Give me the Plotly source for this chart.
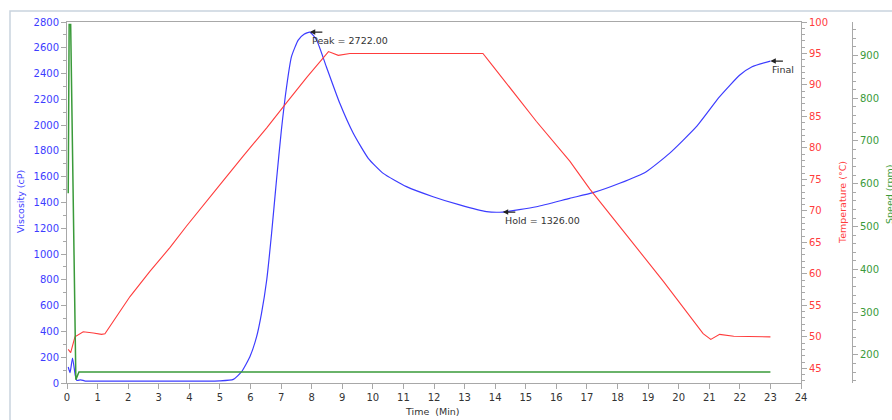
import plotly.graph_objects as go

# ---------------- data ----------------
time_visc = [0.04, 0.1, 0.18, 0.27, 0.32, 0.45, 0.6, 1, 2, 3, 4, 5, 5.44, 5.71, 5.98, 6.2, 6.36,
             6.53, 6.69, 6.85, 7.01, 7.18, 7.34, 7.56, 7.75, 7.94, 8.16, 8.48, 8.92, 9.36, 9.85, 10.34,
             11.1, 11.97, 12.84, 13.72, 14.25, 15.35, 16.44, 17.2, 18.07, 18.94, 19.7, 20.58,
             21.34, 22.0, 22.4, 23.0]
viscosity = [124, 80, 194, 60, 20, 25, 15, 14, 14, 14, 14, 16, 28, 88, 204, 359, 540,
             799, 1161, 1574, 1962, 2298, 2531, 2660, 2705, 2722, 2660, 2453, 2169, 1937, 1743, 1626,
             1523, 1445, 1381, 1329, 1326, 1367, 1432, 1476, 1549, 1639, 1781, 1988,
             2221, 2389, 2453, 2497]

time_temp = [0.04, 0.12, 0.26, 0.53, 0.86, 1.13, 1.24, 1.51, 2.06, 2.71, 3.37, 3.91, 4.45, 5.11,
             5.76, 6.53, 7.18, 7.84, 8.55, 8.87, 9.25, 13.6, 13.83, 14.26, 15.35, 16.44, 17.09,
             18.29, 19.5, 20.8, 21.05, 21.34, 21.8, 23.0]
temperature = [48.0, 47.5, 50.0, 50.8, 50.6, 50.4, 50.5, 52.4, 56.4, 60.4, 64.2, 67.6, 70.9, 74.8,
               78.7, 83.2, 87.2, 91.2, 95.3, 94.7, 95.0, 95.0, 93.6, 90.9, 84.2, 77.9, 73.5,
               66.2, 58.8, 50.5, 49.6, 50.4, 50.1, 50.0]

time_speed = [0.04, 0.07, 0.12, 0.29, 0.39, 23.0]
speed = [578, 972, 972, 142, 160, 160]

x_ticks = list(range(0, 25))
marker_labels = ["Peak = 2722.00", "Hold = 1326.00", "Final"]
marker_times = [7.94, 14.25, 23.0]
marker_values = [2722, 1326, 2497]

# ---------------- styling ----------------
FONT = "DejaVu Sans"
BLUE = "#3c3cff"
RED = "#ff3c3c"
GREEN = "#3a9a3a"
AX = "#a8a8a8"

W, H = 892, 420
L, R, T, B = 67, 40, 22, 37
plot_w = W - L - R
x_end = (801 - L) / plot_w

fig = go.Figure()
fig.add_trace(go.Scatter(x=time_visc, y=viscosity, mode="lines",
                         line=dict(color=BLUE, width=1.2, shape="spline", smoothing=0.5),
                         yaxis="y", showlegend=False))
fig.add_trace(go.Scatter(x=time_temp, y=temperature, mode="lines", line=dict(color=RED, width=1.1),
                         yaxis="y2", showlegend=False))
fig.add_trace(go.Scatter(x=time_speed, y=speed, mode="lines", line=dict(color=GREEN, width=1.5),
                         yaxis="y3", showlegend=False))

annotations = []
for lbl, tx, vy in zip(marker_labels, marker_times, marker_values):
    annotations.append(dict(x=tx, y=vy, xref="x", yref="y", text="", showarrow=True,
                            ax=14, ay=0, arrowhead=2, arrowsize=0.9, arrowwidth=1.2,
                            arrowcolor="#222222"))
    annotations.append(dict(x=tx, y=vy, xref="x", yref="y", text=lbl, showarrow=False,
                            xanchor="left", yanchor="top", xshift=0, yshift=-1,
                            font=dict(family=FONT, size=9.5, color="#333333")))

def px_x(p):
    return (p - L) / plot_w

def px_y(p):
    return (H - B - p) / (H - T - B)

annotations += [
    dict(x=px_x(20), y=px_y(202), xref="paper", yref="paper", text="Viscosity (cP)", textangle=-90,
         xanchor="center", yanchor="middle",
         showarrow=False, font=dict(family=FONT, size=9.5, color=BLUE)),
    dict(x=px_x(842), y=px_y(203), xref="paper", yref="paper", text="Temperature (°C)", textangle=-90,
         xanchor="center", yanchor="middle",
         showarrow=False, font=dict(family=FONT, size=9.5, color=RED)),
    dict(x=px_x(889), y=px_y(195), xref="paper", yref="paper", text="Speed (rpm)", textangle=-90,
         xanchor="center", yanchor="middle",
         showarrow=False, font=dict(family=FONT, size=9.5, color=GREEN)),
    dict(x=px_x(432), y=px_y(411), xref="paper", yref="paper", text="Time  (Min)",
         xanchor="center", yanchor="middle",
         showarrow=False, font=dict(family=FONT, size=9.5, color="#333333")),
]

shapes = [
    dict(type="rect", xref="paper", yref="paper", x0=px_x(10), y0=px_y(425), x1=px_x(900), y1=px_y(11),
         line=dict(color="#c9d3de", width=1.5), fillcolor="rgba(0,0,0,0)", layer="below"),
]

fig.update_layout(
    width=W, height=H,
    margin=dict(l=L, r=R, t=T, b=B, autoexpand=False),
    paper_bgcolor="white", plot_bgcolor="white",
    font=dict(family=FONT, size=10, color="#333333"),
    annotations=annotations, shapes=shapes,
    xaxis=dict(domain=[0, x_end], range=[0, 24], tickvals=x_ticks, ticks="outside", ticklen=5,
               tickcolor=AX, showline=True, linecolor=AX, mirror=True, showgrid=False,
               zeroline=False, automargin=False,
               tickfont=dict(family=FONT, size=10, color="#333333")),
    yaxis=dict(range=[0, 2800], dtick=200, ticks="outside", ticklen=5, tickcolor=AX,
               minor=dict(dtick=100, ticks="outside", ticklen=3, tickcolor=AX),
               showline=True, linecolor=AX, mirror=True, showgrid=False, zeroline=False,
               automargin=False, tickfont=dict(family=FONT, size=10, color=BLUE)),
    yaxis2=dict(range=[42.67, 100], dtick=5, overlaying="y", side="right", anchor="x",
                ticks="outside", ticklen=5, tickcolor=AX,
                minor=dict(dtick=1, ticks="outside", ticklen=3, tickcolor=AX),
                showline=False, showgrid=False, zeroline=False, automargin=False,
                tickfont=dict(family=FONT, size=10, color=RED)),
    yaxis3=dict(range=[134.5, 978], dtick=100, overlaying="y", side="right", anchor="free",
                position=1.0, ticks="outside", ticklen=5, tickcolor=AX,
                minor=dict(dtick=20, ticks="outside", ticklen=3, tickcolor=AX),
                showline=True, linecolor=AX, showgrid=False, zeroline=False, automargin=False,
                tickfont=dict(family=FONT, size=10, color=GREEN)),
)

fig.write_html("out.html", config={"displayModeBar": False},
               post_script="document.body.style.margin='0';document.body.style.overflow='hidden';")
